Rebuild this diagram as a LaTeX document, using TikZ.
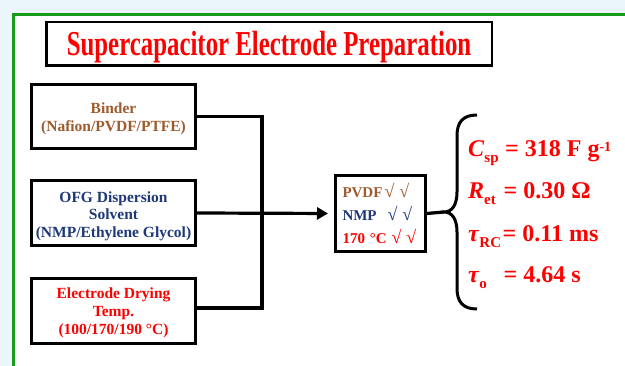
\documentclass[tikz,border=0pt]{standalone}
\usepackage{fontspec}
\setmainfont{Liberation Serif}
\newfontfamily\titlefont[FakeStretch=0.71]{Liberation Serif}
\usetikzlibrary{arrows.meta}
\definecolor{bgblue}{RGB}{234,245,252}
\definecolor{framegreen}{RGB}{24,155,24}
\definecolor{brn}{RGB}{158,92,46}
\definecolor{nvy}{RGB}{31,56,120}
\definecolor{rd}{RGB}{255,0,0}
\newcommand\mysub[1]{\raisebox{-5.3pt}{\fontsize{15}{15}\selectfont #1}}
\newcommand\mysup[1]{\raisebox{5.5pt}{\fontsize{14}{14}\selectfont #1}}
\newcommand\chk{{\mdseries\fontsize{18}{18}\selectfont √\hspace{5pt}√}}
\tikzset{
  lbox/.style={draw, line width=3pt, minimum width=164pt, minimum height=64.5pt,
    align=center, inner sep=0pt, text depth=0pt, font=\fontsize{15.5}{18.5}\selectfont\bfseries},
  conn/.style={line width=3.2pt},
  rtxt/.style={inner sep=0pt, text=rd, font=\fontsize{24}{24}\selectfont\bfseries},
}
\begin{document}
\begin{tikzpicture}[x=1pt,y=-1pt]
\useasboundingbox (0,0) rectangle (625,366);
\clip (0,0) rectangle (625,366);
\fill[bgblue] (0,0) rectangle (625,366);
\fill[white] (13.5,14.5) rectangle (640,380);
\draw[framegreen, line width=3pt] (13.5,380) -- (13.5,14.5) -- (640,14.5);

\node[draw, line width=2.5pt, minimum width=445.5pt, minimum height=43.5pt, inner sep=0pt,
  text=rd, text height=23.5pt, text depth=0pt,
  font=\titlefont\fontsize{35}{35}\selectfont\bfseries] (title) at (269,44)
  {Supercapacitor Electrode Preparation};

\node[lbox, text=brn, text height=31pt] (b1) at (113.5,116.5) {Binder\\(Nafion/PVDF/PTFE)};
\node[lbox, text=nvy, text height=48.6pt, font=\fontsize{15.5}{17.5}\selectfont\bfseries] (b2) at (113.5,213) {OFG Dispersion\\Solvent\\(NMP/Ethylene Glycol)};
\node[lbox, text=rd, text height=48pt, font=\fontsize{15.5}{18.3}\selectfont\bfseries] (b3) at (113.5,311) {Electrode Drying\\Temp.\\(100/170/190 °C)};

\node[draw, line width=3pt, minimum width=90pt, minimum height=76pt, inner xsep=7pt,
  inner ysep=0pt, text width=76pt, align=left,
  font=\fontsize{15}{23}\selectfont\bfseries] (c) at (380.5,213.5)
  {\textcolor{brn}{\makebox[42pt][l]{PVDF}\chk}\\
   \textcolor{nvy}{\makebox[45pt][l]{NMP}\chk}\\
   \textcolor{rd}{\makebox[49pt][l]{170 °C}\chk}};

\coordinate (jn) at (262,116.5);
\draw[conn] (b1.east) -- (b1.east -| jn) |- ([yshift=3pt]b3.east);
\draw[conn, -{Triangle[length=11pt,width=12pt]}, shorten >=6pt] (b2.east) -- (c.west);

\coordinate (bt) at (444,212);
\draw[conn] (c.east) -- (bt);
\draw[line width=3pt] (477,115) .. controls (463,115) and (457,122) .. (457,136)
  -- (457,192) .. controls (457,205) and (452,212) .. (bt)
  .. controls (452,212) and (457,219) .. (457,232)
  -- (457,288) .. controls (457,302) and (463,309) .. (477,309);

\node[rtxt, anchor=base west] (s1) at (468,157) {\textit{C}\mysub{sp}};
\node[rtxt, anchor=base west] (v1) at (505,157) {= 318 F g\mysup{-1}};
\node[rtxt, anchor=base west] (s2) at (468,199) {\textit{R}\mysub{et}};
\node[rtxt, anchor=base west] (v2) at (503.5,199) {= 0.30 Ω};
\node[rtxt, anchor=base west] (s3) at (468,241.5) {\textit{τ}\raisebox{-6.5pt}{\fontsize{15}{15}\selectfont RC}};
\node[rtxt, anchor=base west] (v3) at (502.5,241.5) {= 0.11 ms};
\node[rtxt, anchor=base west] (s4) at (468,283) {\textit{τ}\mysub{o}};
\node[rtxt, anchor=base west] (v4) at (503.5,283) {= 4.64 s};
\end{tikzpicture}
\end{document}
